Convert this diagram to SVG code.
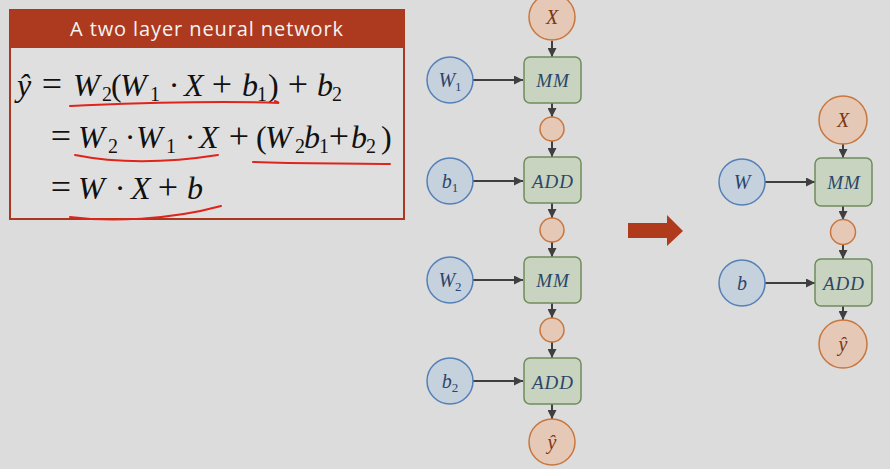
<svg xmlns="http://www.w3.org/2000/svg" width="890" height="469" viewBox="0 0 890 469">
<style>
.var{font-family:"Liberation Serif","DejaVu Serif",serif;font-style:italic;font-size:32px;fill:#111}
.sub{font-family:"Liberation Serif","DejaVu Serif",serif;font-size:20px;fill:#111}
.op{font-family:"Liberation Serif","DejaVu Serif",serif;font-size:36px;fill:#111;text-anchor:middle}
.dot{font-family:"Liberation Serif","DejaVu Serif",serif;font-size:32px;fill:#111;text-anchor:middle}
.par{font-family:"Liberation Serif",serif;font-size:32px;fill:#111}
.ul{fill:none;stroke:#e0241c;stroke-width:2;stroke-linecap:round}
.bn{fill:#c6d1de;stroke:#5480b8;stroke-width:1.5}
.on{fill:#e5c9b6;stroke:#c8773f;stroke-width:1.5}
.gn{fill:#c8d4c0;stroke:#6f8c5c;stroke-width:1.5}
.lb{font-family:"Liberation Serif","DejaVu Serif",serif;font-style:italic;font-size:20px;fill:#2c466a;text-anchor:middle}
.lbs{font-size:13px;font-style:normal}
.lo{font-family:"Liberation Serif","DejaVu Serif",serif;font-style:italic;font-size:20px;fill:#7a3516;text-anchor:middle}
.op2{font-family:"Liberation Serif","DejaVu Serif",serif;font-style:italic;font-size:19px;fill:#2c466a;text-anchor:middle;letter-spacing:1px}
.c{stroke:#3f3f3f;stroke-width:2;fill:none;marker-end:url(#ah)}
</style>
<defs>
<marker id="ah" markerUnits="userSpaceOnUse" markerWidth="9" markerHeight="9" refX="9" refY="4.5" orient="auto">
<path d="M0,0 L9,4.5 L0,9 z" fill="#3f3f3f"/>
</marker>
</defs>
<rect width="890" height="469" fill="#dcdcdc"/>

<g id="formula-box">
<rect x="10" y="10" width="394" height="209" fill="#dfdfdf" stroke="#a8391e" stroke-width="2"/>
<rect x="10" y="10" width="394" height="38" fill="#ad3a1e"/>
<text x="207" y="36" font-family="'Open Sans','Noto Sans',sans-serif" font-size="20" letter-spacing="0.9" fill="#f4f4f4" text-anchor="middle">A two layer neural network</text>

<text class="var" x="17" y="96">ŷ</text>
<text class="op" x="52" y="96">=</text>
<text class="var" x="73" y="96">W</text><text class="sub" x="102" y="101">2</text>
<text class="par" x="111" y="96">(</text>
<text class="var" x="120" y="96">W</text><text class="sub" x="150" y="101">1</text>
<text class="dot" x="174" y="96">·</text>
<text class="var" x="184" y="96">X</text>
<text class="op" x="222" y="96">+</text>
<text class="var" x="242" y="96">b</text><text class="sub" x="257" y="101">1</text>
<text class="par" x="268" y="96">)</text>
<text class="op" x="298" y="96">+</text>
<text class="var" x="317" y="96">b</text><text class="sub" x="332" y="101">2</text>

<text class="op" x="61" y="148">=</text>
<text class="var" x="78" y="148">W</text><text class="sub" x="108" y="153">2</text>
<text class="dot" x="130" y="148">·</text>
<text class="var" x="136" y="148">W</text><text class="sub" x="166" y="153">1</text>
<text class="dot" x="190" y="148">·</text>
<text class="var" x="199" y="148">X</text>
<text class="op" x="239" y="148">+</text>
<text class="par" x="256" y="148">(</text>
<text class="var" x="265" y="148">W</text><text class="sub" x="295" y="153">2</text>
<text class="var" x="304" y="148">b</text><text class="sub" x="319" y="153">1</text>
<text class="op" x="339" y="148">+</text>
<text class="var" x="351" y="148">b</text><text class="sub" x="366" y="153">2</text>
<text class="par" x="381" y="148">)</text>

<text class="op" x="61" y="199">=</text>
<text class="var" x="78" y="199">W</text>
<text class="dot" x="120" y="199">·</text>
<text class="var" x="131" y="199">X</text>
<text class="op" x="168" y="199">+</text>
<text class="var" x="187" y="199">b</text>

<path class="ul" d="M70,106 C120,104 200,100 279,103 L275,101"/>
<path class="ul" d="M75,155 C110,162 160,164 218,155"/>
<path class="ul" d="M253,162 C300,164 350,163 390,164"/>
<path class="ul" d="M70,217 C110,222 170,220 221,206"/>
</g>

<g id="connectors">
<line class="c" x1="552" y1="41" x2="552" y2="57"/>
<line class="c" x1="473" y1="80" x2="523" y2="80"/>
<line class="c" x1="552" y1="103" x2="552" y2="117"/>
<line class="c" x1="552" y1="141" x2="552" y2="157"/>
<line class="c" x1="473" y1="181" x2="523" y2="181"/>
<line class="c" x1="552" y1="203" x2="552" y2="218"/>
<line class="c" x1="552" y1="242" x2="552" y2="257"/>
<line class="c" x1="473" y1="280" x2="523" y2="280"/>
<line class="c" x1="552" y1="303" x2="552" y2="318"/>
<line class="c" x1="552" y1="342" x2="552" y2="358"/>
<line class="c" x1="473" y1="381" x2="523" y2="381"/>
<line class="c" x1="552" y1="404" x2="552" y2="419"/>

<line class="c" x1="843" y1="144" x2="843" y2="158"/>
<line class="c" x1="765" y1="182" x2="815" y2="182"/>
<line class="c" x1="843" y1="206" x2="843" y2="220"/>
<line class="c" x1="843" y1="245" x2="843" y2="259"/>
<line class="c" x1="765" y1="283" x2="815" y2="283"/>
<line class="c" x1="843" y1="306" x2="843" y2="320"/>
</g>

<g id="X1"><circle class="on" cx="552" cy="17" r="23"/><text class="lo" x="552" y="24">X</text></g>
<g id="MM1"><rect class="gn" x="524" y="57" width="57" height="46" rx="6"/><text class="op2" x="553" y="87">MM</text></g>
<g id="W1"><circle class="bn" cx="450" cy="80" r="23"/><text class="lb" x="450" y="87">W<tspan class="lbs" dy="4">1</tspan></text></g>
<g id="h1"><circle class="on" cx="552" cy="129" r="12"/></g>
<g id="ADD1"><rect class="gn" x="524" y="157" width="57" height="46" rx="6"/><text class="op2" x="553" y="188">ADD</text></g>
<g id="b1"><circle class="bn" cx="450" cy="181" r="23"/><text class="lb" x="450" y="188">b<tspan class="lbs" dy="4">1</tspan></text></g>
<g id="h2"><circle class="on" cx="552" cy="230" r="12"/></g>
<g id="MM2"><rect class="gn" x="524" y="257" width="57" height="46" rx="6"/><text class="op2" x="553" y="287">MM</text></g>
<g id="W2"><circle class="bn" cx="450" cy="280" r="23"/><text class="lb" x="450" y="287">W<tspan class="lbs" dy="4">2</tspan></text></g>
<g id="h3"><circle class="on" cx="552" cy="330" r="12"/></g>
<g id="ADD2"><rect class="gn" x="524" y="358" width="57" height="46" rx="6"/><text class="op2" x="553" y="389">ADD</text></g>
<g id="b2"><circle class="bn" cx="450" cy="381" r="23"/><text class="lb" x="450" y="388">b<tspan class="lbs" dy="4">2</tspan></text></g>
<g id="yhat1"><circle class="on" cx="552" cy="442" r="23"/><text class="lo" x="552" y="449">ŷ</text></g>

<g id="arrow"><polygon points="628,223 667,223 667,215 683,231 667,246 667,238 628,238" fill="#b03a1c"/></g>

<g id="X2"><circle class="on" cx="843" cy="120" r="24"/><text class="lo" x="843" y="127">X</text></g>
<g id="MM3"><rect class="gn" x="815" y="158" width="57" height="48" rx="6"/><text class="op2" x="844" y="189">MM</text></g>
<g id="W"><circle class="bn" cx="742" cy="182" r="23"/><text class="lb" x="742" y="189">W</text></g>
<g id="h4"><circle class="on" cx="843" cy="232" r="12.5"/></g>
<g id="ADD3"><rect class="gn" x="815" y="259" width="57" height="47" rx="6"/><text class="op2" x="844" y="290">ADD</text></g>
<g id="b"><circle class="bn" cx="742" cy="283" r="23"/><text class="lb" x="742" y="290">b</text></g>
<g id="yhat2"><circle class="on" cx="843" cy="344" r="24"/><text class="lo" x="843" y="351">ŷ</text></g>
</svg>
